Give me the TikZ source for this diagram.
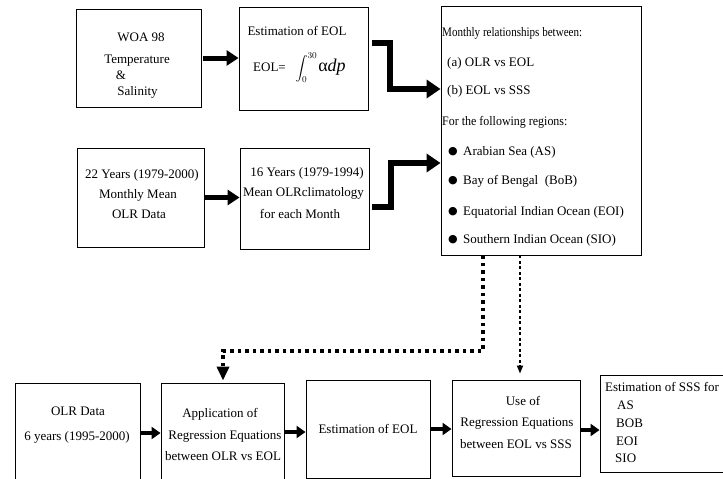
\documentclass[tikz,border=0pt]{standalone}
\usepackage{exscale}
\usepackage{graphicx}
\usepackage{fontspec}
\setmainfont{Liberation Serif}
\newfontfamily\dvfont{DejaVu Sans}
\usetikzlibrary{arrows.meta}
\begin{document}
\begin{tikzpicture}[x=1pt,y=-1pt,
  box/.style={draw=black, line width=0.9pt, inner sep=0pt},
  lbl/.style={font=\fontsize{13}{15}\selectfont, inner sep=0pt, text height=9pt, text depth=3pt},
  lbll/.style={lbl, anchor=west},
  bigarrow/.style={line width=5pt, -{Triangle[length=12pt,width=15pt]}},
  elbowarrow/.style={line width=5.5pt, -{Triangle[length=14pt,width=18pt]}},
  smallarrow/.style={line width=4pt, -{Triangle[length=9pt,width=12pt]}},
  dotthick/.style={line width=3.5pt, dash pattern=on 3.5pt off 4pt, -{Triangle[length=14pt,width=12pt]}},
  dotthin/.style={line width=1.8pt, dash pattern=on 3pt off 2.5pt, -{Triangle[length=8pt,width=6pt]}},
  bul/.style={font=\dvfont\fontsize{11}{11}\selectfont, inner sep=0pt}]
\useasboundingbox (0,0) rectangle (723,479);
\clip (0,0) rectangle (723,479);
\fill[white] (0,0) rectangle (723,479);
% boxes
\node[box, minimum width=125pt, minimum height=98pt] (A) at (138.5,58) {};
\node[box, minimum width=129pt, minimum height=103pt] (B) at (303.5,58.5) {};
\node[box, minimum width=200pt, minimum height=249pt] (C) at (541,130.5) {};
\node[box, minimum width=127pt, minimum height=99pt] (D) at (140.5,197.5) {};
\node[box, minimum width=129pt, minimum height=101pt] (E) at (304.5,198.5) {};
\node[box, minimum width=125pt, minimum height=137pt] (F) at (77.5,451.5) {};
\node[box, minimum width=123pt, minimum height=137pt] (G) at (222.5,451.5) {};
\node[box, minimum width=124pt, minimum height=98pt] (H) at (368,429) {};
\node[box, minimum width=128pt, minimum height=96pt] (I) at (516,428) {};
\node[box, minimum width=160pt, minimum height=97pt] (J) at (680,423.5) {};
% texts A
\node[lbl] (a1) at (141,38) {WOA 98};
\node[lbl] (a2) at (137,60) {Temperature};
\node[lbl] (a3) at (121,76) {\&};
\node[lbl] (a4) at (137.5,92) {Salinity};
% texts B
\node[lbl] (b1) at (297,32) {Estimation of EOL};
\node[font=\fontsize{13}{15}\selectfont, inner sep=0pt, anchor=west] (b2) at (253,68) {EOL=\ \ \ \raisebox{-1pt}{$\displaystyle\int_0^{30}$}\hspace{1pt}{\fontsize{18}{18}\selectfont α\textit{dp}}};
% texts C
\node[lbll] (c1) at (442,33) {\scalebox{0.85}[1]{Monthly relationships between:}};
\node[lbll] (c2) at (447,63) {(a) OLR vs EOL};
\node[lbll] (c3) at (447,91) {(b) EOL vs SSS};
\node[lbll] (c4) at (442,122) {\scalebox{0.92}[1]{For the following regions:}};
\node[bul] (d1) at (453,152) {●};
\node[bul] (d2) at (453,181) {●};
\node[bul] (d3) at (453,212) {●};
\node[bul] (d4) at (453,240) {●};
\node[lbll] (c5) at (463,152) {Arabian Sea (AS)};
\node[lbll] (c6) at (463,181) {Bay of Bengal\ \ (BoB)};
\node[lbll] (c7) at (463,212) {Equatorial Indian Ocean (EOI)};
\node[lbll] (c8) at (463,240) {Southern Indian Ocean (SIO)};
% texts D, E
\node[lbl] (e1) at (142,175) {22 Years (1979-2000)};
\node[lbl] (e2) at (138,195) {Monthly Mean};
\node[lbl] (e3) at (139,215) {OLR Data};
\node[lbl] (f1) at (307,173) {16 Years (1979-1994)};
\node[lbl] (f2) at (303.5,193) {Mean OLRclimatology};
\node[lbl] (f3) at (300,215) {for each Month};
% bottom texts
\node[lbl] (g1) at (78,412) {OLR Data};
\node[lbl] (g2) at (77,437) {6 years (1995-2000)};
\node[lbl] (h1) at (220,414) {Application of};
\node[lbl] (h2) at (225,436) {Regression Equations};
\node[lbl] (h3) at (223,457) {between OLR vs EOL};
\node[lbl] (i1) at (368,430) {Estimation of EOL};
\node[lbl] (j1) at (523,402) {Use of};
\node[lbl] (j2) at (517,423) {Regression Equations};
\node[lbl] (j3) at (516,445) {between EOL vs SSS};
\node[lbll] (k1) at (605,388) {Estimation of SSS for};
\node[lbll] (k2) at (617,406) {AS};
\node[lbll] (k3) at (616,424) {BOB};
\node[lbll] (k4) at (616,442) {EOI};
\node[lbll] (k5) at (615,459) {SIO};
% arrows top
\draw[bigarrow] ([xshift=2pt]A.east) -- (A.east -| B.west);
\draw[bigarrow] (D.east) -- (D.east -| E.west);
\coordinate (bs) at ([xshift=4pt]B.east);
\coordinate (es) at ([xshift=3pt]E.east);
\draw[elbowarrow] (bs |- 0,43) -- (390,43) -- (390,89) -- (C.west |- 0,89);
\draw[elbowarrow] (es |- 0,207) -- (391,207) -- (391,163) -- (C.west |- 0,163);
% bottom arrows
\draw[smallarrow] (F.east |- 0,433) -- (G.west |- 0,433);
\draw[smallarrow] (G.east |- 0,432) -- (H.west |- 0,432);
\draw[smallarrow] (H.east |- 0,429) -- (I.west |- 0,429);
\draw[smallarrow] (I.east |- 0,430) -- (J.west |- 0,430);
% dotted
\draw[dotthick] (C.south -| 483,0) -- (483,351) -- (223,351) -- ([yshift=2pt]G.north -| 223,0);
\draw[dotthin] (C.south -| 520,0) -- ([yshift=6pt]I.north -| 520,0);
\end{tikzpicture}
\end{document}
